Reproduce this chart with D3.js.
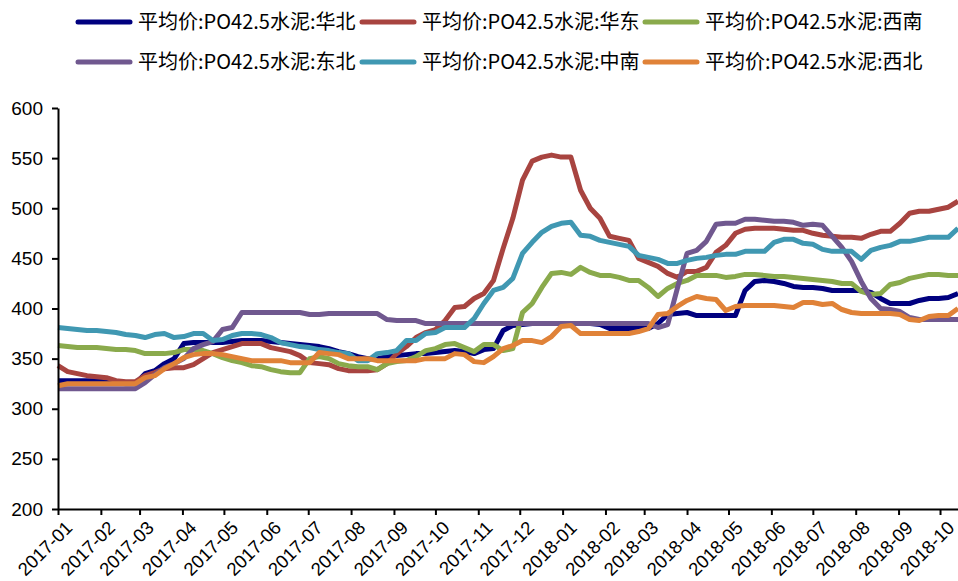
<!DOCTYPE html>
<html>
<head>
<meta charset="utf-8">
<script src="https://cdn.jsdelivr.net/npm/d3@7"></script>
<style>
  html, body { margin: 0; padding: 0; background: #fff; }
  svg { display: block; }
  text { font-family: "Liberation Sans", Arial, sans-serif; fill: #000; }
  .legend text { font-family: "Noto Sans CJK SC", "Liberation Sans", sans-serif; }
</style>
</head>
<body>
<svg id="chart" width="958" height="581"></svg>
<script>
// Weekly average price of PO42.5 cement by region (yuan/ton)
const startDate = "2017-01-01";
const weekCount = 94;

const seriesNames = [
  "平均价:PO42.5水泥:华北",
  "平均价:PO42.5水泥:华东",
  "平均价:PO42.5水泥:西南",
  "平均价:PO42.5水泥:东北",
  "平均价:PO42.5水泥:中南",
  "平均价:PO42.5水泥:西北"
];
const seriesColors = ["#00007f", "#a84440", "#8aaa4c", "#70588f", "#4098b2", "#e08238"];

const huabei = [
  328,328,328,328,328,327,326,325,325,335,338,345,350,365,366,366,366,366,367,368,
  368,368,367,366,365,364,363,362,360,357,355,352,350,350,352,353,354,355,355,356,
  357,358,357,355,359,360,378,383,384,385,385,385,385,385,385,385,384,380,380,380,
  380,380,385,394,395,396,393,393,393,393,393,418,427,428,427,425,422,421,421,420,
  418,418,418,418,416,410,405,405,405,408,410,410,411,415
];
const huadong = [
  343,337,335,333,332,331,328,327,327,333,336,340,341,341,344,350,356,359,362,365,
  365,365,361,359,357,353,346,345,344,340,338,338,338,339,345,355,362,371,376,379,
  388,401,402,410,415,428,460,490,528,547,551,553,551,551,518,500,490,472,470,468,
  450,446,442,435,431,437,437,441,456,463,475,479,480,480,480,479,478,478,475,473,
  472,471,471,470,474,477,477,485,495,497,497,499,501,507
];
const xinan = [
  363,362,361,361,361,360,359,359,358,355,355,355,356,359,359,358,355,351,348,346,
  343,342,339,337,336,336,350,352,350,345,343,342,342,339,345,347,348,352,358,360,
  364,365,361,357,364,364,358,360,396,405,421,435,436,434,441,436,433,433,431,428,
  428,421,412,420,425,428,433,433,433,431,432,434,434,433,432,432,431,430,429,428,
  427,425,425,417,414,415,424,426,430,432,434,434,433,433
];
const dongbei = [
  320,320,320,320,320,320,320,320,320,326,334,341,345,350,360,364,367,379,381,396,
  396,396,396,396,396,396,394,394,395,395,395,395,395,395,389,388,388,388,385,385,
  385,385,385,385,385,385,385,385,385,385,385,385,385,385,385,385,385,385,385,385,
  385,385,381,384,420,455,458,467,484,485,485,489,489,488,487,487,486,483,484,483,
  472,461,447,427,410,400,399,397,391,389,389,389,389,389
];
const zhongnan = [
  381,380,379,378,378,377,376,374,373,371,374,375,371,372,375,375,368,369,373,375,
  375,374,371,366,364,362,361,359,358,356,355,348,348,355,356,358,368,368,375,376,
  381,381,381,390,405,418,421,430,455,466,476,482,485,486,473,472,468,466,464,462,
  453,451,449,445,445,448,450,451,453,454,454,457,457,457,466,469,469,465,464,459,
  457,457,457,449,458,461,463,467,467,469,471,471,471,480
];
const xibei = [
  323,325,325,325,325,325,325,325,325,331,333,340,345,351,354,355,355,354,352,350,
  348,348,348,348,346,346,346,356,355,354,350,350,350,348,348,348,348,348,350,350,
  350,355,354,347,346,352,360,363,368,368,366,372,382,383,375,375,375,375,375,375,
  377,380,394,395,402,408,412,410,409,398,402,403,403,403,403,402,401,406,406,404,
  405,399,396,395,395,395,395,394,389,388,392,393,393,400
];

const yTicks = [200, 250, 300, 350, 400, 450, 500, 550, 600];
const seriesValues = [huabei, huadong, xinan, dongbei, zhongnan, xibei];

const svg = d3.select("#chart");
const margin = { left: 58, right: 0, top: 108, bottom: 72 };
const width = 958, height = 581;

const start = new Date(startDate + "T00:00:00Z");
const dates = d3.range(weekCount).map(i => d3.utcDay.offset(start, 7 * i));

const x = d3.scaleUtc()
  .domain([dates[0], dates[dates.length - 1]])
  .range([margin.left, width - margin.right]);
const y = d3.scaleLinear()
  .domain([200, 600])
  .range([height - margin.bottom, margin.top]);

// Lines
const line = d3.line()
  .x((d, i) => x(dates[i]))
  .y(d => y(d));

const plot = svg.append("g");
seriesValues.forEach((vals, k) => {
  plot.append("path")
    .datum(vals)
    .attr("fill", "none")
    .attr("stroke", seriesColors[k])
    .attr("stroke-width", 5)
    .attr("stroke-linejoin", "round")
    .attr("d", line);
});

// Y axis
const yAxis = svg.append("g")
  .attr("transform", `translate(${margin.left},0)`)
  .call(d3.axisLeft(y).tickValues(yTicks).tickSize(6).tickPadding(9).tickSizeOuter(0));
yAxis.select(".domain").attr("stroke", "#000").attr("stroke-width", 2);
yAxis.selectAll(".tick line").attr("stroke", "#000").attr("stroke-width", 2);
yAxis.selectAll(".tick text").style("font-size", "19px");

// X axis, month labels slanted
const xAxis = svg.append("g")
  .attr("transform", `translate(0,${height - margin.bottom})`)
  .call(d3.axisBottom(x).ticks(d3.utcMonth.every(1)).tickFormat(d3.utcFormat("%Y-%m")).tickSize(6).tickSizeOuter(0));
xAxis.select(".domain").attr("stroke", "#000").attr("stroke-width", 2);
xAxis.selectAll(".tick line").attr("stroke", "#000").attr("stroke-width", 2);
xAxis.selectAll(".tick text")
  .style("font-size", "18.5px")
  .attr("text-anchor", "end")
  .attr("dy", "0.35em")
  .attr("transform", "translate(4,9) rotate(-45)");

// Legend
const legend = svg.append("g").attr("class", "legend");
const colX = [78, 362, 645];
const rowY = [22, 62];
seriesNames.forEach((name, k) => {
  const gx = colX[k % 3], gy = rowY[Math.floor(k / 3)];
  const g = legend.append("g").attr("transform", `translate(${gx},${gy})`);
  g.append("line")
    .attr("x1", 0).attr("x2", 52).attr("y1", 0).attr("y2", 0)
    .attr("stroke", seriesColors[k]).attr("stroke-width", 5).attr("stroke-linecap", "round");
  g.append("text")
    .attr("x", 60).attr("y", 0).attr("dy", "0.35em")
    .style("font-size", "20px")
    .text(name);
});
</script>
</body>
</html>
